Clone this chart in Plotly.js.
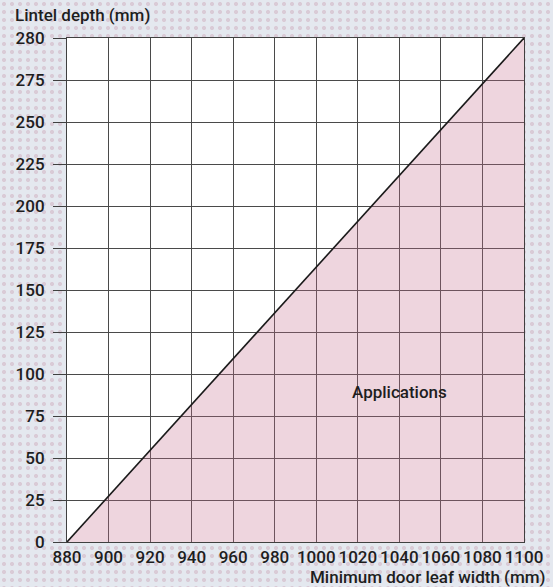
<!DOCTYPE html>
<html>
<head>
<meta charset="utf-8">
<script src="https://cdn.plot.ly/plotly-3.0.1.min.js"></script>
<style>
  html, body { margin: 0; padding: 0; }
  body {
    background-color: #e4e8ef;
    background-image: radial-gradient(circle, rgba(214,196,208,0.8) 1.6px, rgba(0,0,0,0) 2.4px);
    background-size: 8px 8px;
  }
  #chart { width: 553px; height: 587px; }
</style>
</head>
<body>
<div id="chart"></div>
<script>
// ---- data ----
const doorWidth = [880, 1100];          // mm
const lintelDepth = [0, 280];           // mm
const xTickLabels = [880, 900, 920, 940, 960, 980, 1000, 1020, 1040, 1060, 1080, 1100];
const yTickLabels = [0, 25, 50, 75, 100, 125, 150, 175, 200, 225, 250, 275, 280];
const regionLabel = "Applications";
const regionLabelAt = [1040, 89];

// The printed y axis is uniform up to 275, then the last cell (275-280) is drawn
// at the same height as the others: piecewise-linear mapping onto the axis.
function yAxisPos(v) { return v <= 275 ? v : 275 + (v - 275) * 5; }

const font = "Roboto, 'Liberation Sans', sans-serif";

const traces = [{
  x: doorWidth,
  y: lintelDepth.map(yAxisPos),
  type: 'scatter',
  mode: 'lines',
  fill: 'tozeroy',
  fillcolor: 'rgba(196,110,140,0.29)',
  line: { color: '#1a1a1a', width: 1.6 },
  hoverinfo: 'skip'
}];

const layout = {
  width: 553, height: 587,
  margin: { l: 67, r: 29, t: 38, b: 45 },
  paper_bgcolor: 'rgba(0,0,0,0)',
  plot_bgcolor: '#ffffff',
  showlegend: false,
  font: { family: font, size: 17, color: '#1e1e1e' },
  xaxis: {
    range: [880, 1100],
    tickvals: xTickLabels,
    ticktext: xTickLabels.map(String),
    showgrid: true, gridcolor: '#4a4a4a', gridwidth: 1,
    zeroline: false,
    showline: true, linecolor: '#404040', linewidth: 1, mirror: true,
    ticks: '', ticklen: 0,
    tickfont: { family: font, size: 17, color: '#1e1e1e', weight: 500 },
    fixedrange: true
  },
  yaxis: {
    range: [0, 300],
    tickvals: yTickLabels.map(yAxisPos),
    ticktext: yTickLabels.map(String),
    showgrid: true, gridcolor: '#4a4a4a', gridwidth: 1,
    zeroline: false,
    showline: true, linecolor: '#404040', linewidth: 1, mirror: true,
    ticks: 'outside', ticklen: 13, tickcolor: '#404040', tickwidth: 1,
    ticklabelstandoff: 5,
    tickfont: { family: font, size: 17, color: '#1e1e1e', weight: 500 },
    fixedrange: true
  },
  annotations: [
    { text: 'Lintel depth (mm)', xref: 'paper', yref: 'paper', x: -0.118, y: 1.0, yshift: 23,
      xanchor: 'left', yanchor: 'middle', showarrow: false,
      font: { family: font, size: 17, color: '#1e1e1e', weight: 500 } },
    { text: 'Minimum door leaf width (mm)', xref: 'paper', yref: 'paper', x: 1.053, y: 0, yshift: -35,
      xanchor: 'right', yanchor: 'middle', showarrow: false,
      font: { family: font, size: 17, color: '#1e1e1e', weight: 500 } },
    { text: regionLabel, x: regionLabelAt[0], y: yAxisPos(regionLabelAt[1]),
      xanchor: 'center', yanchor: 'middle', showarrow: false,
      font: { family: font, size: 17, color: '#1e1e1e', weight: 500 } }
  ]
};

Plotly.newPlot('chart', traces, layout, { staticPlot: true, displayModeBar: false });
</script>
</body>
</html>
